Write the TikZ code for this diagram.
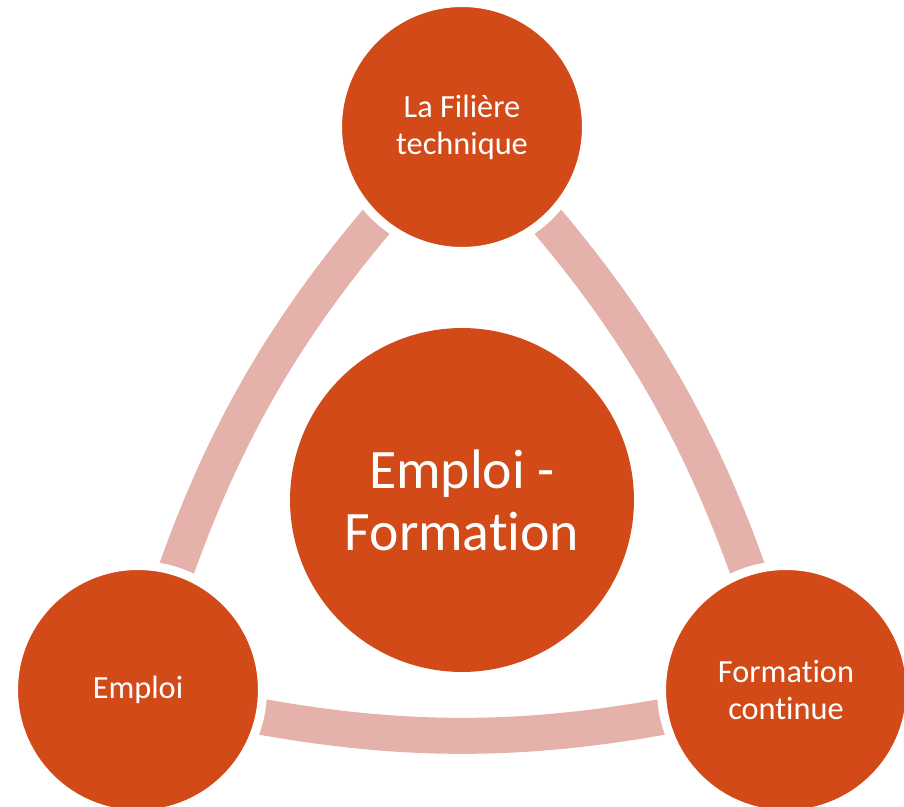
\documentclass[tikz,border=0pt]{standalone}
\usepackage{fontspec}
\setmainfont{Carlito}[Ligatures=NoCommon]
\definecolor{nodeorange}{RGB}{210,74,24}
\definecolor{bandpink}{RGB}{229,177,171}
\begin{document}
\begin{tikzpicture}[x=0.02cm,y=-0.02cm,
  outer/.style={circle,fill=nodeorange,draw=white,line width=0.18cm,minimum size=4.98cm,inner sep=0pt,align=center,text=white,font=\fontsize{18.4}{21}\selectfont},
  hub/.style={circle,fill=nodeorange,minimum size=6.88cm,inner sep=0pt,align=center,text=white,font=\fontsize{31.7}{35.3}\selectfont},
  band/.style={draw=bandpink,line width=0.72cm}]
\useasboundingbox (0,0) rectangle (904,807);
\coordinate (cT) at (462,127);
\coordinate (cL) at (138,690);
\coordinate (cR) at (786,690);
\draw[band] (cT) to[bend right=14] (cL);
\draw[band] (cL) to[bend right=14] (cR);
\draw[band] (cR) to[bend right=14] (cT);
\node[outer] (T) at (cT) {La Filière\\technique};
\node[outer] (L) at (cL) {Emploi};
\node[outer] (R) at (cR) {Formation\\continue};
\node[hub] (C) at (462,500) {Emploi -\\Formation};
\end{tikzpicture}
\end{document}
